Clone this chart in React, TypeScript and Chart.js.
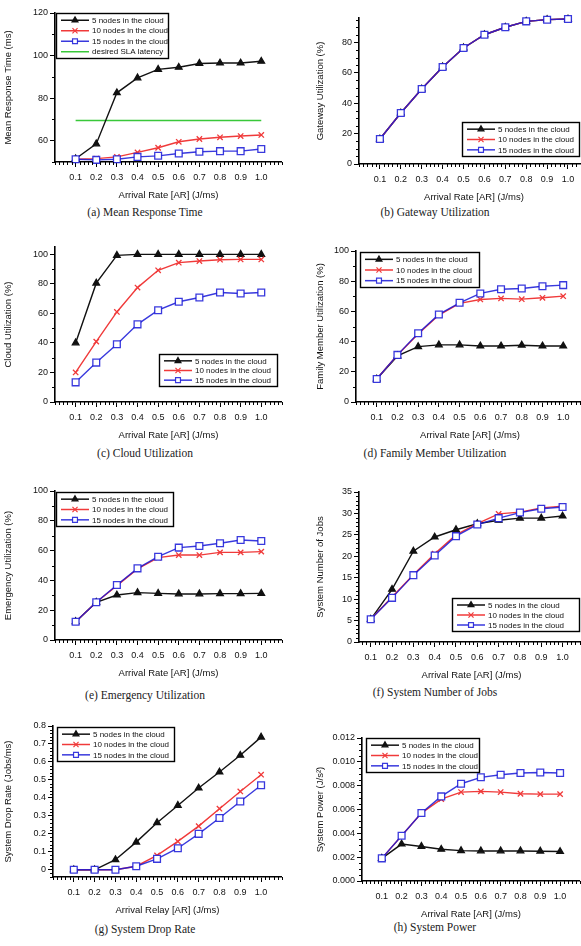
import React, { useEffect, useRef } from "react";
import { Chart, registerables } from "chart.js";

Chart.register(...registerables);

// ---------------- data ----------------
const X_VALUES = [0.1, 0.2, 0.3, 0.4, 0.5, 0.6, 0.7, 0.8, 0.9, 1.0];
const SERIES_NAMES = ["5 nodes in the cloud", "10 nodes in the cloud", "15 nodes in the cloud"];
const SLA_NAME = "desired SLA latency";
const X_TITLE = "Arrival Rate [AR] (J/ms)";
const X_TITLE_G = "Arrival Relay [AR] (J/ms)";

// (a) Mean Response Time
const A_5 = [51.5, 58.5, 82.5, 89.5, 93.5, 94.5, 96.3, 96.5, 96.5, 97.3];
const A_10 = [51.3, 51.6, 52.4, 54.5, 56.7, 59.5, 60.8, 61.6, 62.2, 62.7];
const A_15 = [51.3, 51.0, 51.3, 52.4, 52.9, 54.0, 54.8, 55.1, 55.1, 56.1];
const A_SLA = [69.5, 69.5, 69.5, 69.5, 69.5, 69.5, 69.5, 69.5, 69.5, 69.5];
const A_Y_TICKS = [60, 80, 100, 120];

// (b) Gateway Utilization
const B_5 = [16.4, 33.5, 49.3, 63.8, 76.3, 85.0, 89.9, 93.8, 94.9, 95.3];
const B_10 = [16.4, 33.5, 49.3, 63.8, 76.3, 85.0, 89.9, 93.8, 94.9, 95.3];
const B_15 = [16.4, 33.5, 49.3, 63.8, 76.3, 85.0, 89.9, 93.8, 94.9, 95.3];
const B_Y_TICKS = [0, 20, 40, 60, 80];

// (c) Cloud Utilization
const C_5 = [40, 80.5, 99.3, 100, 100, 100, 100, 100, 100, 100];
const C_10 = [20, 40.9, 61, 77.5, 89.2, 94.4, 95.5, 96.4, 96.6, 96.6];
const C_15 = [13.3, 26.7, 39.1, 52.6, 62.2, 67.9, 70.8, 74.2, 73.5, 74.2];
const PCT_Y_TICKS = [0, 20, 40, 60, 80, 100];

// (d) Family Member Utilization
const D_5 = [15.2, 30.5, 36.7, 37.8, 37.8, 37.1, 37.1, 37.6, 37.1, 37.1];
const D_10 = [15.2, 31.2, 45, 57.6, 65.3, 67.9, 68.6, 68.1, 69, 70.1];
const D_15 = [15.2, 31.2, 45.5, 58, 65.7, 71.9, 74.7, 75.2, 76.7, 77.4];

// (e) Emergency Utilization
const E_5 = [12.3, 25.3, 30.2, 31.8, 31.3, 30.9, 30.9, 31.1, 31.1, 31.3];
const E_10 = [12.3, 25.3, 36.5, 47.7, 55.3, 57, 57, 58.8, 58.8, 59.3];
const E_15 = [12.3, 25.3, 36.9, 48.1, 55.9, 62, 63.1, 64.9, 67.1, 66.4];

// (f) System Number of Jobs
const F_5 = [5.3, 12.3, 21.2, 24.5, 26.2, 27.6, 28.4, 28.9, 28.9, 29.4];
const F_10 = [5.3, 10.5, 15.7, 20.6, 25, 27.6, 29.9, 30.3, 31.3, 31.7];
const F_15 = [5.3, 10.3, 15.6, 20.2, 24.7, 27.4, 28.9, 30.2, 31.1, 31.5];
const F_Y_TICKS = [0, 5, 10, 15, 20, 25, 30, 35];

// (g) System Drop Rate
const G_5 = [0, 0, 0.056, 0.154, 0.262, 0.358, 0.455, 0.544, 0.637, 0.738];
const G_10 = [0, 0, 0, 0.02, 0.08, 0.158, 0.243, 0.34, 0.436, 0.529];
const G_15 = [0, 0, 0, 0.02, 0.061, 0.12, 0.2, 0.288, 0.38, 0.47];
const G_Y_TICKS = [0, 0.1, 0.2, 0.3, 0.4, 0.5, 0.6, 0.7, 0.8];

// (h) System Power
const H_5 = [0.0019, 0.0031, 0.0029, 0.00266, 0.00255, 0.00252, 0.00252, 0.00252, 0.0025, 0.00247];
const H_10 = [0.0019, 0.0038, 0.0057, 0.00687, 0.00746, 0.00752, 0.00746, 0.00732, 0.00729, 0.00729];
const H_15 = [0.0019, 0.0038, 0.0057, 0.0071, 0.00816, 0.0087, 0.00892, 0.00906, 0.00911, 0.00906];
const H_Y_TICKS = [0, 0.002, 0.004, 0.006, 0.008, 0.01, 0.012];

// ---------------- styles ----------------
const BLACK = "#111111";
const RED = "#f03a3a";
const BLUE = "rgba(22,22,215,0.85)";
const GREEN = "#39c83a";
const SANS = "'Liberation Sans', Arial, sans-serif";
const SERIF = "'Liberation Serif', 'DejaVu Serif', serif";
const TICK_SIZE = 9;
const TITLE_SIZE = 9.5;
const LEGEND_SIZE = 8;

type Series = { name: string; data: number[]; color: string; marker: string | null; fill: string; order: number };

function three(d5: number[], d10: number[], d15: number[]): Series[] {
  return [
    { name: SERIES_NAMES[0], data: d5, color: BLACK, marker: "triangle", fill: BLACK, order: 2 },
    { name: SERIES_NAMES[1], data: d10, color: RED, marker: "crossRot", fill: RED, order: 1 },
    { name: SERIES_NAMES[2], data: d15, color: BLUE, marker: "rect", fill: "#ffffff", order: 0 },
  ];
}

type Panel = {
  key: string;
  canvasLeft: number;
  plot: [number, number, number, number];
  xRange: [number, number];
  yRange: [number, number];
  yTicks: number[];
  yMinorStep: number;
  yFmt: (v: number) => string;
  yTitle: string;
  xTitle: string;
  caption: string;
  captionY: number;
  colCenter: number;
  legend: [number, number, number, number];
  series: Series[];
};

const intFmt = (v: number) => String(Math.round(v));

const PANELS: Panel[] = [
  {
    key: "a", canvasLeft: 0, plot: [55, 13, 282, 162], xRange: [0, 1.1], yRange: [50, 120],
    yTicks: A_Y_TICKS, yMinorStep: 10, yFmt: intFmt, yTitle: "Mean Response Time (ms)", xTitle: X_TITLE,
    caption: "(a) Mean Response Time", captionY: 212, colCenter: 145, legend: [56, 13, 113, 46],
    series: [...three(A_5, A_10, A_15), { name: SLA_NAME, data: A_SLA, color: GREEN, marker: null, fill: GREEN, order: 3 }],
  },
  {
    key: "b", canvasLeft: 312, plot: [359, 18, 589, 164], xRange: [0, 1.1], yRange: [0, 96],
    yTicks: B_Y_TICKS, yMinorStep: 5, yFmt: intFmt, yTitle: "Gateway Utilization (%)", xTitle: X_TITLE,
    caption: "(b) Gateway Utilization", captionY: 212, colCenter: 435, legend: [462, 122, 118, 35],
    series: three(B_5, B_10, B_15),
  },
  {
    key: "c", canvasLeft: 0, plot: [55, 247, 282, 402], xRange: [0, 1.1], yRange: [0, 105],
    yTicks: PCT_Y_TICKS, yMinorStep: 10, yFmt: intFmt, yTitle: "Cloud Utilization (%)", xTitle: X_TITLE,
    caption: "(c) Cloud Utilization", captionY: 453, colCenter: 145, legend: [159, 354, 119, 33],
    series: three(C_5, C_10, C_15),
  },
  {
    key: "d", canvasLeft: 312, plot: [356, 251, 584, 402], xRange: [0, 1.1], yRange: [0, 100],
    yTicks: PCT_Y_TICKS, yMinorStep: 10, yFmt: intFmt, yTitle: "Family Member Utilization (%)", xTitle: X_TITLE,
    caption: "(d) Family Member Utilization", captionY: 453, colCenter: 435, legend: [360, 252, 120, 36],
    series: three(D_5, D_10, D_15),
  },
  {
    key: "e", canvasLeft: 0, plot: [55, 491, 282, 640], xRange: [0, 1.1], yRange: [0, 100],
    yTicks: PCT_Y_TICKS, yMinorStep: 10, yFmt: intFmt, yTitle: "Emergency Utilization (%)", xTitle: X_TITLE,
    caption: "(e) Emergency Utilization", captionY: 695, colCenter: 145, legend: [56, 492, 118, 35],
    series: three(E_5, E_10, E_15),
  },
  {
    key: "f", canvasLeft: 312, plot: [359, 492, 584, 642], xRange: [0.045, 1.1], yRange: [0, 35],
    yTicks: F_Y_TICKS, yMinorStep: 1, yFmt: intFmt, yTitle: "System Number of Jobs", xTitle: X_TITLE,
    caption: "(f) System Number of Jobs", captionY: 692, colCenter: 435, legend: [452, 598, 128, 34],
    series: three(F_5, F_10, F_15),
  },
  {
    key: "g", canvasLeft: 0, plot: [53, 726, 282, 877], xRange: [0, 1.1], yRange: [-0.04, 0.8],
    yTicks: G_Y_TICKS, yMinorStep: 0.02, yFmt: (v) => (Math.abs(v) < 1e-9 ? "0" : v.toFixed(1)),
    yTitle: "System Drop Rate (Jobs/ms)", xTitle: X_TITLE_G,
    caption: "(g) System Drop Rate", captionY: 929, colCenter: 145, legend: [57, 727, 118, 35],
    series: three(G_5, G_10, G_15),
  },
  {
    key: "h", canvasLeft: 312, plot: [362, 738, 580, 881], xRange: [0, 1.1], yRange: [0, 0.012],
    yTicks: H_Y_TICKS, yMinorStep: 0.0005, yFmt: (v) => v.toFixed(3), yTitle: "System Power (J/s²)", xTitle: X_TITLE,
    caption: "(h) System Power", captionY: 927, colCenter: 435, legend: [366, 738, 114, 35],
    series: three(H_5, H_10, H_15),
  },
];

const PAD_TOP = 10;
const PAD_RIGHT = 6;
const X_AXIS_H = 39;

function drawMarker(ctx: CanvasRenderingContext2D, style: string, x: number, y: number, r: number, color: string, fill: string) {
  ctx.save();
  ctx.strokeStyle = color;
  ctx.fillStyle = fill;
  ctx.lineWidth = 1.2;
  ctx.beginPath();
  if (style === "triangle") {
    ctx.moveTo(x, y - r);
    ctx.lineTo(x + r * 0.87, y + r * 0.5);
    ctx.lineTo(x - r * 0.87, y + r * 0.5);
    ctx.closePath();
    ctx.fill();
    ctx.stroke();
  } else if (style === "crossRot") {
    const s = r * 0.75;
    ctx.moveTo(x - s, y - s);
    ctx.lineTo(x + s, y + s);
    ctx.moveTo(x + s, y - s);
    ctx.lineTo(x - s, y + s);
    ctx.stroke();
  } else if (style === "rect") {
    const s = r * 0.72;
    ctx.rect(x - s, y - s, 2 * s, 2 * s);
    ctx.fill();
    ctx.stroke();
  }
  ctx.restore();
}

function minorValues(min: number, max: number, step: number, majors: number[]) {
  const out: number[] = [];
  const i0 = Math.ceil(min / step - 1e-9);
  const i1 = Math.floor(max / step + 1e-9);
  for (let i = i0; i <= i1; i++) {
    const v = i * step;
    if (!majors.some((m) => Math.abs(m - v) < step * 0.01)) out.push(v);
  }
  return out;
}

function makeDecor(p: Panel, canvasTop: number) {
  const xMinor = minorValues(p.xRange[0], p.xRange[1], 0.02, X_VALUES);
  const yMinor = minorValues(p.yRange[0], p.yRange[1], p.yMinorStep, p.yTicks);
  return {
    id: "decor_" + p.key,
    afterDraw(chart: any) {
      const ctx: CanvasRenderingContext2D = chart.ctx;
      const xs = chart.scales.x;
      const ys = chart.scales.y;
      const { left, bottom } = chart.chartArea;
      ctx.save();
      ctx.strokeStyle = "#000";
      ctx.lineWidth = 1;
      ctx.beginPath();
      for (const v of xMinor) {
        const px = Math.round(xs.getPixelForValue(v)) + 0.5;
        ctx.moveTo(px, bottom);
        ctx.lineTo(px, bottom + 3);
      }
      for (const v of yMinor) {
        const py = Math.round(ys.getPixelForValue(v)) + 0.5;
        ctx.moveTo(left, py);
        ctx.lineTo(left - 3, py);
      }
      ctx.stroke();

      // inset legend
      const [gx, gy, gw, gh] = p.legend;
      const lx = gx - p.canvasLeft;
      const ly = gy - canvasTop;
      ctx.fillStyle = "#ffffff";
      ctx.fillRect(lx, ly, gw, gh);
      ctx.strokeStyle = "#000";
      ctx.lineWidth = 1.4;
      ctx.strokeRect(lx + 0.5, ly + 0.5, gw - 1, gh - 1);
      const n = p.series.length;
      const rowH = (gh - 4) / n;
      ctx.font = LEGEND_SIZE + "px " + SANS;
      ctx.textBaseline = "middle";
      ctx.textAlign = "left";
      p.series.forEach((s, i) => {
        const ry = ly + 2 + rowH * (i + 0.5);
        ctx.strokeStyle = s.color;
        ctx.lineWidth = 1.5;
        ctx.beginPath();
        ctx.moveTo(lx + 5, ry);
        ctx.lineTo(lx + 33, ry);
        ctx.stroke();
        if (s.marker) drawMarker(ctx, s.marker, lx + 19, ry, 3.4, s.color, s.fill);
        ctx.fillStyle = "#111";
        ctx.fillText(s.name, lx + 36, ry + 0.5);
      });
      ctx.restore();
    },
  };
}

function PanelChart({ p }: { p: Panel }) {
  const ref = useRef<HTMLCanvasElement | null>(null);
  const [L, T, R, B] = p.plot;
  const canvasTop = T - PAD_TOP;
  const width = R + PAD_RIGHT - p.canvasLeft;
  const height = B + X_AXIS_H - canvasTop;

  useEffect(() => {
    if (!ref.current) return;
    const datasets = p.series.map((s) => ({
      label: s.name,
      data: X_VALUES.map((x, i) => ({ x, y: s.data[i] })),
      borderColor: s.color,
      backgroundColor: s.fill,
      borderWidth: s.marker ? 1.4 : 1.6,
      pointStyle: s.marker || "circle",
      pointRadius: s.marker ? (s.marker === "rect" ? 4.8 : 3.8) : 0,
      pointBorderColor: s.color,
      pointBackgroundColor: s.fill,
      pointBorderWidth: 1.3,
      order: s.order,
      tension: 0,
      clip: 6,
    }));
    const chart = new Chart(ref.current, {
      type: "line",
      data: { datasets },
      options: {
        responsive: false,
        animation: false,
        devicePixelRatio: 1,
        layout: { padding: { top: PAD_TOP, right: PAD_RIGHT, left: 0, bottom: 0 } },
        plugins: { legend: { display: false }, tooltip: { enabled: false } },
        scales: {
          x: {
            type: "linear",
            min: p.xRange[0],
            max: p.xRange[1],
            afterBuildTicks: (axis: any) => {
              axis.ticks = X_VALUES.map((v) => ({ value: v }));
            },
            afterFit: (scale: any) => {
              scale.height = X_AXIS_H;
            },
            ticks: {
              autoSkip: false,
              maxRotation: 0,
              padding: 5,
              color: "#111",
              font: { family: SANS, size: TICK_SIZE },
              callback: (v: any) => Number(v).toFixed(1),
            },
            grid: { display: true, drawOnChartArea: false, drawTicks: true, tickLength: 5, color: "#000", lineWidth: 1 },
            border: { display: true, color: "#000", width: 1.6 },
            title: { display: true, text: p.xTitle, color: "#111", font: { family: SANS, size: TITLE_SIZE }, padding: { top: 0, bottom: 0 } },
          },
          y: {
            type: "linear",
            min: p.yRange[0],
            max: p.yRange[1],
            afterBuildTicks: (axis: any) => {
              axis.ticks = p.yTicks.map((v) => ({ value: v }));
            },
            afterFit: (scale: any) => {
              scale.width = L - p.canvasLeft;
            },
            ticks: {
              autoSkip: false,
              padding: 2,
              color: "#111",
              font: { family: SANS, size: TICK_SIZE },
              callback: (v: any) => p.yFmt(Number(v)),
            },
            grid: { display: true, drawOnChartArea: false, drawTicks: true, tickLength: 5, color: "#000", lineWidth: 1 },
            border: { display: true, color: "#000", width: 1.6 },
            title: { display: true, text: p.yTitle, color: "#111", font: { family: SANS, size: TITLE_SIZE }, padding: { top: 3, bottom: 0 } },
          },
        },
      },
      plugins: [makeDecor(p, canvasTop)],
    } as any);
    return () => chart.destroy();
  }, []);

  return (
    <>
      <canvas
        ref={ref}
        width={width}
        height={height}
        style={{ position: "absolute", left: p.canvasLeft, top: canvasTop, width, height }}
      />
      <div
        style={{
          position: "absolute",
          left: p.colCenter - 145,
          width: 290,
          top: p.captionY - 7,
          height: 14,
          lineHeight: "14px",
          textAlign: "center",
          fontFamily: SERIF,
          fontSize: 11.5,
          color: "#222",
          whiteSpace: "nowrap",
        }}
      >
        {p.caption}
      </div>
    </>
  );
}

export default function App() {
  return (
    <div
      style={{
        position: "fixed",
        left: 0,
        top: 0,
        width: 581,
        height: 946,
        overflow: "hidden",
        background: "#ffffff",
      }}
    >
      {PANELS.map((p) => (
        <PanelChart key={p.key} p={p} />
      ))}
    </div>
  );
}
